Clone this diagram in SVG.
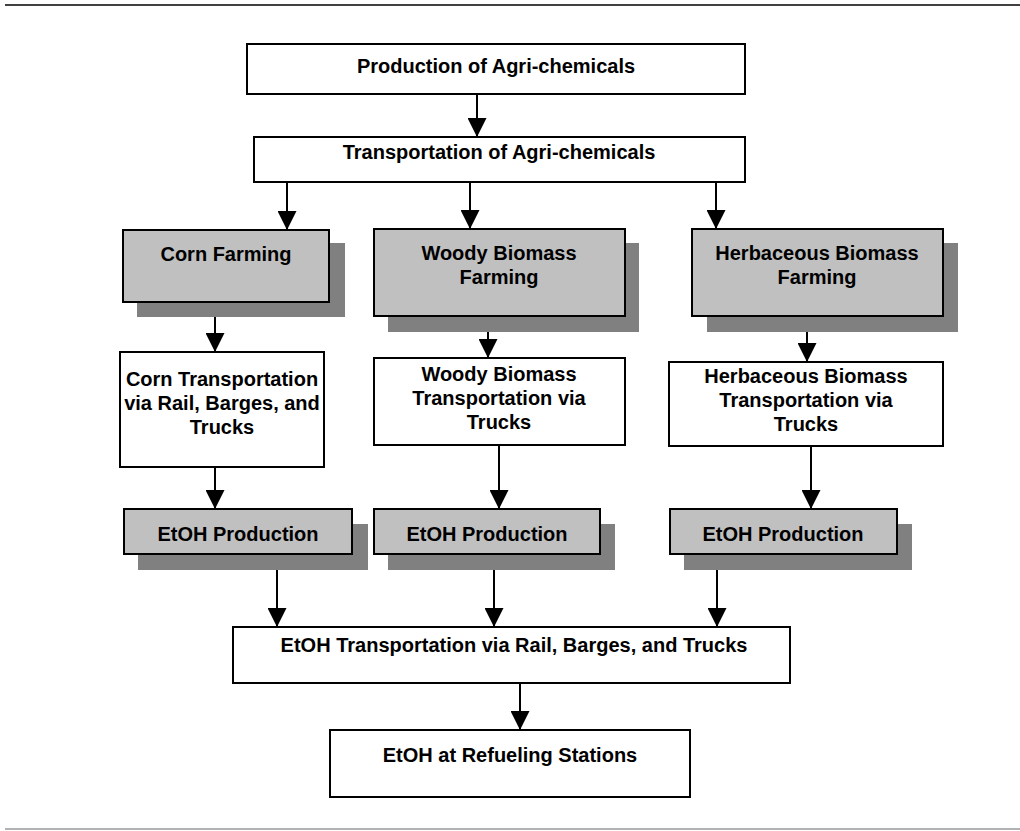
<svg xmlns="http://www.w3.org/2000/svg" width="1020" height="831" viewBox="0 0 1020 831">
<style>
.box{fill:#fff;stroke:#000;stroke-width:2}
.g{fill:#c0c0c0;stroke:#000;stroke-width:2}
.sh{fill:#808080}
text{font-family:"Liberation Sans",Arial,sans-serif;font-weight:bold;font-size:20px;fill:#000;text-anchor:middle}
.c line{stroke:#000;stroke-width:2}
</style>
<defs>
<marker id="ah" markerWidth="20" markerHeight="19" refX="20" refY="10" orient="auto" markerUnits="userSpaceOnUse" viewBox="0 0 20 20">
<path d="M0,0 L20,10 L0,20 Z" fill="#000"/>
</marker>
</defs>
<rect width="1020" height="831" fill="#fff"/>
<line x1="5" y1="5" x2="1020" y2="5" stroke="#000" stroke-width="1.5"/>
<line x1="5" y1="829" x2="1020" y2="829" stroke="#999" stroke-width="1.5"/>

<g id="n1"><rect class="box" x="247" y="44" width="498" height="50"/><text x="496" y="73">Production of Agri-chemicals</text></g>
<g id="n2"><rect class="box" x="254" y="137" width="491" height="45"/><text x="499" y="159">Transportation of Agri-chemicals</text></g>

<g id="corn-farm"><rect class="sh" x="137" y="243" width="208" height="74"/><rect class="g" x="123" y="230" width="206" height="72"/><text x="226" y="261">Corn Farming</text></g>
<g id="woody-farm"><rect class="sh" x="388" y="243" width="251" height="89"/><rect class="g" x="374" y="229" width="251" height="87"/><text x="499" y="260">Woody Biomass</text><text x="499" y="284">Farming</text></g>
<g id="herb-farm"><rect class="sh" x="707" y="243" width="251" height="89"/><rect class="g" x="692" y="229" width="251" height="87"/><text x="817" y="260">Herbaceous Biomass</text><text x="817" y="284">Farming</text></g>

<g id="corn-trans"><rect class="box" x="120" y="352" width="204" height="115"/><text x="222" y="386">Corn Transportation</text><text x="222" y="410">via Rail, Barges, and</text><text x="222" y="434">Trucks</text></g>
<g id="woody-trans"><rect class="box" x="374" y="358" width="251" height="87"/><text x="499" y="381">Woody Biomass</text><text x="499" y="405">Transportation via</text><text x="499" y="429">Trucks</text></g>
<g id="herb-trans"><rect class="box" x="669" y="362" width="274" height="84"/><text x="806" y="383">Herbaceous Biomass</text><text x="806" y="407">Transportation via</text><text x="806" y="431">Trucks</text></g>

<g id="corn-etoh"><rect class="sh" x="138" y="524" width="230" height="46"/><rect class="g" x="124" y="509" width="228" height="45"/><text x="238" y="541">EtOH Production</text></g>
<g id="woody-etoh"><rect class="sh" x="388" y="524" width="227" height="46"/><rect class="g" x="374" y="509" width="226" height="45"/><text x="487" y="541">EtOH Production</text></g>
<g id="herb-etoh"><rect class="sh" x="684" y="524" width="228" height="46"/><rect class="g" x="670" y="509" width="227" height="45"/><text x="783" y="541">EtOH Production</text></g>

<g id="etoh-trans"><rect class="box" x="233" y="627" width="557" height="56"/><text x="514" y="652">EtOH Transportation via Rail, Barges, and Trucks</text></g>
<g id="refuel"><rect class="box" x="330" y="730" width="360" height="67"/><text x="510" y="762">EtOH at Refueling Stations</text></g>

<g class="c" id="connectors">
<line x1="477" y1="94" x2="477" y2="137" marker-end="url(#ah)"/>
<line x1="287" y1="182" x2="287" y2="230" marker-end="url(#ah)"/>
<line x1="470" y1="182" x2="470" y2="229" marker-end="url(#ah)"/>
<line x1="716" y1="182" x2="716" y2="229" marker-end="url(#ah)"/>
<line x1="215" y1="317" x2="215" y2="352" marker-end="url(#ah)"/>
<line x1="488" y1="332" x2="488" y2="358" marker-end="url(#ah)"/>
<line x1="807" y1="332" x2="807" y2="362" marker-end="url(#ah)"/>
<line x1="215" y1="467" x2="215" y2="509" marker-end="url(#ah)"/>
<line x1="499" y1="445" x2="499" y2="509" marker-end="url(#ah)"/>
<line x1="811" y1="446" x2="811" y2="509" marker-end="url(#ah)"/>
<line x1="277" y1="570" x2="277" y2="627" marker-end="url(#ah)"/>
<line x1="494" y1="570" x2="494" y2="627" marker-end="url(#ah)"/>
<line x1="717" y1="570" x2="717" y2="627" marker-end="url(#ah)"/>
<line x1="520" y1="683" x2="520" y2="730" marker-end="url(#ah)"/>
</g>
</svg>
